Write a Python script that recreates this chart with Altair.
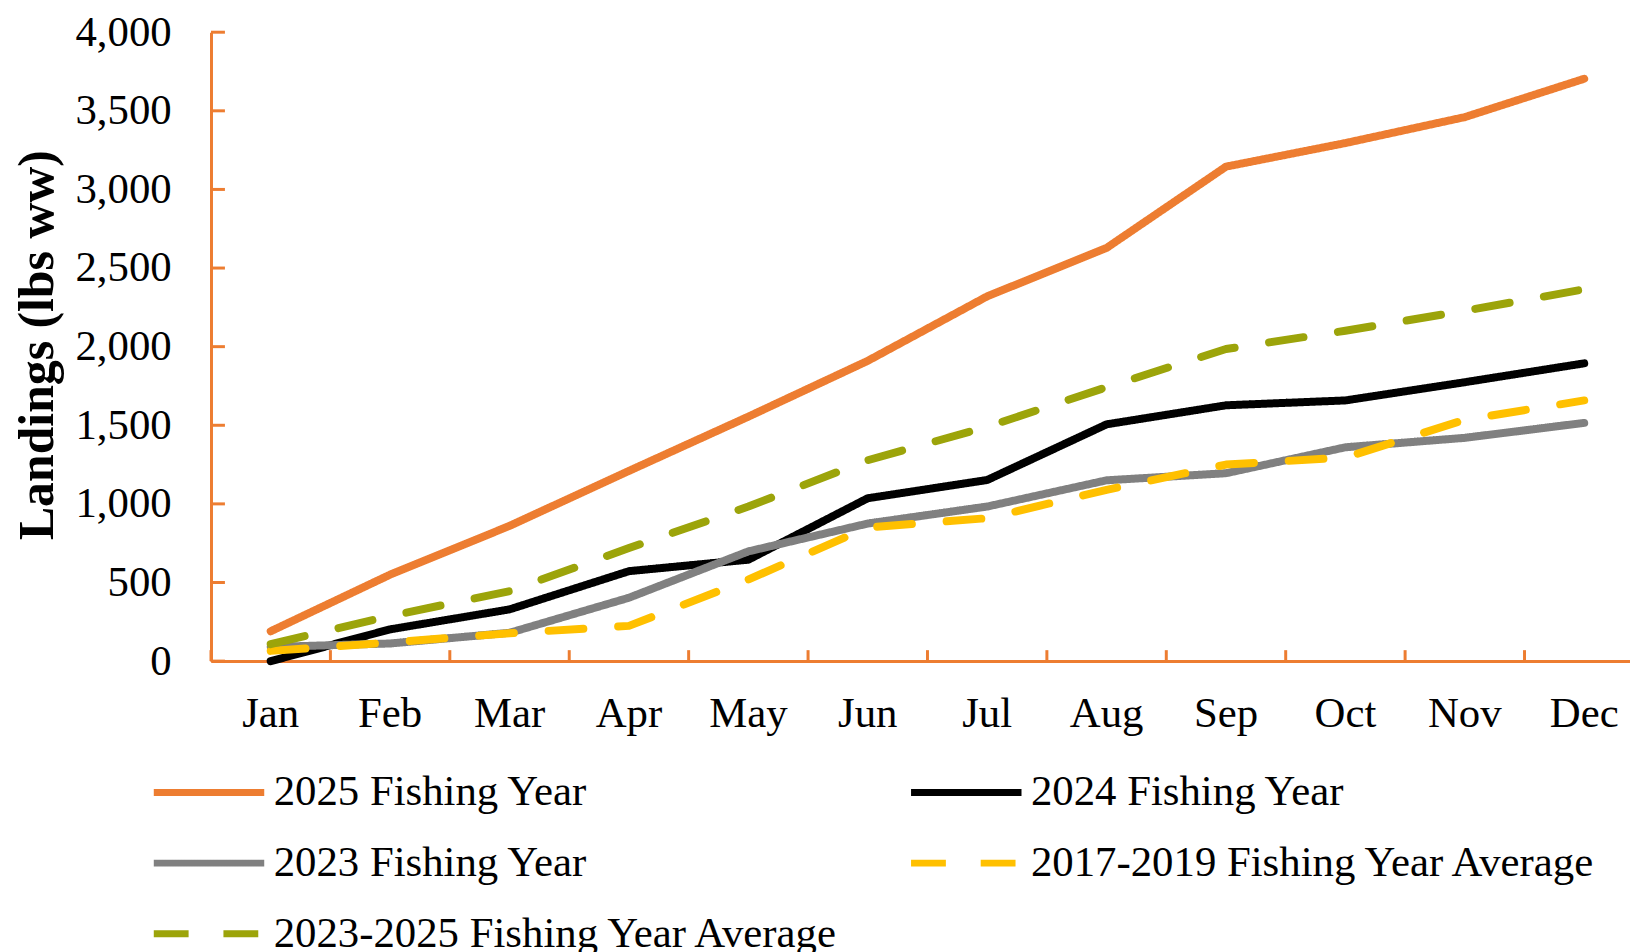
import altair as alt
import pandas as pd

months = ["Jan", "Feb", "Mar", "Apr", "May", "Jun", "Jul", "Aug", "Sep", "Oct", "Nov", "Dec"]
series_names = [
    "2025 Fishing Year",
    "2024 Fishing Year",
    "2023 Fishing Year",
    "2017-2019 Fishing Year Average",
    "2023-2025 Fishing Year Average",
]
fy2025 = [190, 550, 860, 1210, 1555, 1910, 2320, 2628, 3145, 3295, 3460, 3704]
fy2024 = [0, 202, 329, 572, 645, 1036, 1152, 1506, 1627, 1658, 1774, 1894]
fy2023 = [90, 112, 180, 403, 698, 875, 983, 1150, 1195, 1360, 1420, 1515]
avg1719 = [65, 118, 177, 224, 519, 850, 909, 1089, 1250, 1295, 1535, 1658]
avg2325 = [108, 287, 445, 719, 983, 1278, 1490, 1742, 1985, 2101, 2228, 2365]
y_ticks = [0, 500, 1000, 1500, 2000, 2500, 3000, 3500, 4000]

colors = ["#ED7D31", "#000000", "#808080", "#FFC000", "#9CA40A"]
dashes = [[1, 0], [1, 0], [1, 0], [35, 35], [35, 35]]

rows = []
for name, vals in zip(series_names, [fy2025, fy2024, fy2023, avg1719, avg2325]):
    for m, v in zip(months, vals):
        rows.append({"month": m, "series": name, "value": v})
df = pd.DataFrame(rows)

FONT = "Liberation Serif"
AX = "#ED7D31"
PLOT_W = 1426
PLOT_H = 632

x_scale = alt.Scale(domain=months, range=[0, 1440], paddingInner=0, paddingOuter=0)
y_scale = alt.Scale(domain=[0, 4000], nice=False)

lines = alt.Chart(df).mark_line(strokeWidth=8, strokeCap="round", strokeJoin="round").encode(
    x=alt.X("month:N", scale=x_scale, sort=months,
            axis=alt.Axis(title=None, labelFont=FONT, labelFontSize=43, labelColor="black",
                          labelAngle=0, labelPadding=32, ticks=False, tickSize=0,
                          domainColor=AX, domainWidth=3, grid=False)),
    y=alt.Y("value:Q", scale=y_scale,
            axis=alt.Axis(title="Landings (lbs ww)", values=y_ticks, format=",.0f",
                          labelFont=FONT, labelFontSize=43, labelColor="black",
                          labelPadding=40, ticks=False, tickSize=0,
                          domainColor=AX, domainWidth=3, grid=False,
                          titleFont=FONT, titleFontSize=50, titleFontWeight="bold",
                          titleColor="black", titleAngle=270, titleX=-174, titleY=314,
                          titleAlign="center", titleBaseline="middle")),
    color=alt.Color("series:N", scale=alt.Scale(domain=series_names, range=colors),
                    sort=series_names,
                    legend=alt.Legend(title=None, orient="none", legendX=-61, legendY=743,
                                      direction="horizontal", columns=2,
                                      symbolType="stroke", symbolStrokeWidth=7,
                                      symbolSize=12321, clipHeight=42,
                                      labelFont=FONT, labelFontSize=43,
                                      labelColor="black", labelLimit=0, labelOffset=6,
                                      columnPadding=67, rowPadding=28, padding=0,
                                      symbolOffset=0)),
    strokeDash=alt.StrokeDash("series:N", scale=alt.Scale(domain=series_names, range=dashes),
                              sort=series_names, legend=None),
)

ytick_df = pd.DataFrame({"v": y_ticks})
yticks = alt.Chart(ytick_df).mark_rule(color=AX, strokeWidth=3).encode(
    y=alt.Y("v:Q", scale=y_scale),
    x=alt.value(0),
    x2=alt.value(14),
)

xtick_df = pd.DataFrame({"month": months})
xticks = alt.Chart(xtick_df).mark_rule(color=AX, strokeWidth=3, xOffset=-60).encode(
    x=alt.X("month:N", scale=x_scale, sort=months),
    y=alt.value(PLOT_H - 11),
    y2=alt.value(PLOT_H),
)

chart = alt.layer(lines, yticks, xticks).properties(
    width=PLOT_W,
    height=PLOT_H,
    autosize=alt.AutoSizeParams(type="none"),
    padding={"left": 204, "top": 22, "right": 0, "bottom": 290},
).configure(background="white").configure_view(stroke=None).configure_axis(grid=False)

chart.save("out.html", embed_options={"renderer": "svg", "actions": False})
